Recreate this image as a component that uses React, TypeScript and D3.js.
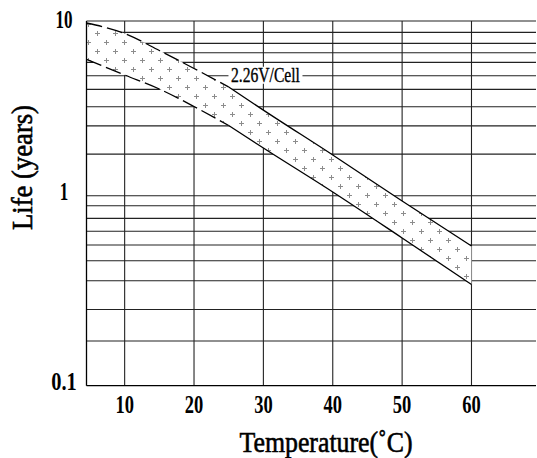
import React from 'react';
import * as d3 from 'd3';

// Temperature (°C) sample points along the band
const temps = [4.5, 10, 15, 20, 25, 30, 40, 50, 60];
// upper and lower edge of the life band (years)
const lifeUpper = [9.74, 8.48, 6.78, 5.35, 4.19, 3.09, 1.71, 0.938, 0.544];
const lifeLower = [6.04, 4.91, 4.08, 3.24, 2.52, 1.875, 1.05, 0.599, 0.341];
// edges are dashed below this temperature
const solidFrom = 25;

const xTicks = [10, 20, 30, 40, 50, 60];
const yLabelValues = [10, 1, 0.1];
const yLabelTexts = ['10', '1', '0.1'];
// horizontal grid lines, as drawn on the original sheet
const yGridUpper = [8.61, 7.45, 6.58, 5.8, 4.86, 4.06, 3.23, 2.51, 1.73];
const yGridLower = [0.886, 0.76, 0.65, 0.55, 0.455, 0.357, 0.252, 0.172];

const bandLabel = '2.26V/Cell';
const bandLabelAt = { t: 30.3, life: 4.86 };

const W = 537;
const H = 458;
const FONT = '"Liberation Serif", "Times New Roman", serif';

export default function App() {
  const x = d3.scaleLinear().domain([4.5, 69.3]).range([86.5, 536]);
  const y = d3.scaleLog().domain([0.1, 1, 10]).range([385.7, 195.7, 21]);

  const [x0, x1] = x.range();
  const yTop = y(10);
  const yBot = y(0.1);

  const pts = temps.map((t, i) => ({ t, hi: lifeUpper[i], lo: lifeLower[i] }));

  const area = d3.area<any>()
    .x(d => x(d.t))
    .y0(d => y(d.lo))
    .y1(d => y(d.hi))
    .curve(d3.curveMonotoneX);

  const edge = (key: 'hi' | 'lo') => d3.line<any>()
    .x(d => x(d.t))
    .y(d => y(d[key]))
    .curve(d3.curveMonotoneX);

  const dashedPts = pts.filter(d => d.t <= solidFrom);
  const solidPts = pts.filter(d => d.t >= solidFrom);

  const gridYs = [10, ...yGridUpper, 1, ...yGridLower];

  const lx = x(bandLabelAt.t);
  const ly = y(bandLabelAt.life);

  return (
    <svg width={W} height={H} style={{ position: 'absolute', left: 0, top: 0, background: '#fff' }}>
      <defs>
        <pattern id="plus" patternUnits="userSpaceOnUse" width={18} height={18} x={84} y={20}>
          <path d="M2,4.5h5M4.5,2v5M11,13.5h5M13.5,11v5" stroke="#8c8c8c" strokeWidth={1} fill="none" />
        </pattern>
      </defs>

      {/* grid */}
      <g stroke="#222" strokeWidth={1.1}>
        {gridYs.map((v, i) => (
          <line key={'h' + i} x1={x0} x2={x1} y1={y(v)} y2={y(v)} />
        ))}
        {xTicks.map(t => (
          <line key={'v' + t} x1={x(t)} x2={x(t)} y1={yTop} y2={yBot} />
        ))}
      </g>

      {/* life band */}
      <path d={area(pts) || ''} fill="#fff" />
      <path d={area(pts) || ''} fill="url(#plus)" />
      <g fill="none" stroke="#000" strokeWidth={1.3}>
        <path d={edge('hi')(dashedPts) || ''} strokeDasharray="16,5" />
        <path d={edge('lo')(dashedPts) || ''} strokeDasharray="16,5" />
        <path d={edge('hi')(solidPts) || ''} />
        <path d={edge('lo')(solidPts) || ''} />
      </g>

      {/* band label */}
      <rect x={lx - 37} y={ly - 9} width={74} height={17} fill="#fff" />
      <text x={lx} y={ly + 6} textAnchor="middle" fontFamily={FONT} fontSize={20}
        textLength={69} lengthAdjust="spacingAndGlyphs" fill="#000" stroke="#000" strokeWidth={0.35}>{bandLabel}</text>

      {/* axes */}
      <g stroke="#000" strokeWidth={1.3}>
        <line x1={x0} x2={x0} y1={yTop} y2={yBot} />
        <line x1={x0} x2={x1} y1={yBot} y2={yBot} />
      </g>

      {/* tick labels */}
      <g fontFamily={FONT} fontSize={24.5} fontWeight="bold" fill="#000">
        {xTicks.map(t => (
          <text key={t} x={x(t)} y={412.5} textAnchor="middle"
            textLength={18.5} lengthAdjust="spacingAndGlyphs">{t}</text>
        ))}
        {yLabelValues.map((v, i) => (
          <text key={v} x={64} y={y(v) + (i === 0 ? 7 : 4)} textAnchor="middle"
            textLength={yLabelTexts[i].length * 8.5} lengthAdjust="spacingAndGlyphs">{yLabelTexts[i]}</text>
        ))}
      </g>

      {/* axis titles */}
      <g fontFamily={FONT} fontSize={30} fill="#000" stroke="#000" strokeWidth={0.6}>
        <text x={326} y={452} textAnchor="middle"
          textLength={173} lengthAdjust="spacingAndGlyphs">Temperature(˚C)</text>
        <text transform={`translate(32,167.5) rotate(-90)`} textAnchor="middle"
          textLength={125} lengthAdjust="spacingAndGlyphs">Life (years)</text>
      </g>
    </svg>
  );
}
